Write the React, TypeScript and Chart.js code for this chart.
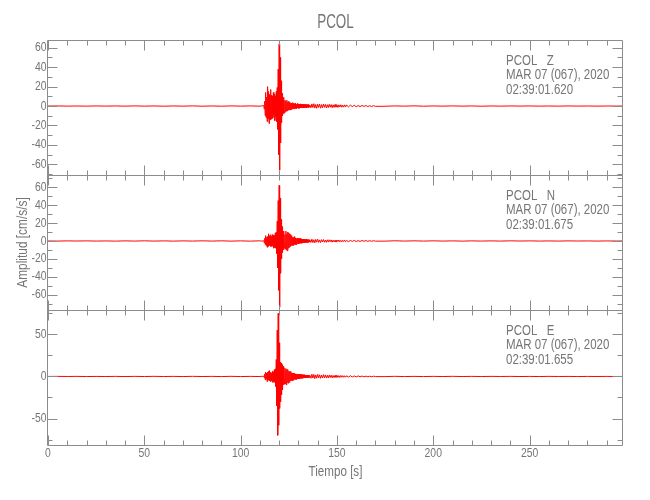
import React, { useEffect, useRef } from "react";
import { Chart, registerables } from "chart.js";

Chart.register(...registerables);

// ---------- data ----------
const STATION = "PCOL";
const DATE_LABEL = "MAR 07 (067), 2020";
const COMPONENTS = ["Z", "N", "E"];
const START_TIMES = ["02:39:01.620", "02:39:01.675", "02:39:01.655"];
const X_TITLE = "Tiempo [s]";
const Y_TITLE = "Amplitud [cm/s/s]";

const X_MIN = 0;
const X_MAX = 298.5;
const X_TICKS = [0, 50, 100, 150, 200, 250];
const Y_MIN = [-71, -77, -81.5];
const Y_MAX = [68, 73.6, 79];
const Y_TICKS = [
  [-60, -40, -20, 0, 20, 40, 60],
  [-60, -40, -20, 0, 20, 40, 60],
  [-50, 0, 50],
];
const Y_MINOR = [10, 10, 25];
const X_MINOR = 10;

// sample times (s)
const TIME = [
  0, 5, 10, 15, 20, 25, 30, 35, 40, 45, 50, 55, 60, 65, 70, 75, 80, 85, 90, 95, 100, 105, 110, 111,
  112, 112.25, 112.5, 112.75,
  113, 113.25, 113.5, 113.75,
  114, 114.25, 114.5, 114.75,
  115, 115.25, 115.5, 115.75,
  116, 116.25, 116.5, 116.75,
  117, 117.25, 117.5, 117.75,
  118, 118.25, 118.5, 118.75,
  119, 119.25, 119.5, 119.75,
  120, 120.25, 120.5, 120.75,
  121, 121.25, 121.5, 121.75,
  122, 122.25, 122.5, 122.75,
  123, 123.25, 123.5, 123.75,
  124, 124.25, 124.5, 124.75,
  125, 125.25, 125.5, 125.75,
  126, 126.25, 126.5, 126.75,
  127, 127.25, 127.5, 127.75,
  128, 128.25, 128.5, 128.75,
  129, 129.25, 129.5, 129.75,
  130, 130.25, 130.5, 130.75,
  131, 131.25, 131.5, 131.75,
  132, 132.25, 132.5, 132.75,
  133, 133.25, 133.5, 133.75,
  134, 134.25, 134.5, 134.75,
  135, 135.25, 135.5, 135.75,
  136,
  136.5, 137, 137.5, 138, 138.5, 139, 139.5, 140, 140.5, 141, 141.5, 142, 142.5, 143, 143.5,
  144, 144.5, 145, 145.5, 146, 146.5, 147, 147.5, 148, 148.5, 149, 149.5, 150, 150.5, 151,
  151.5, 152, 152.5, 153, 153.5, 154, 154.5, 155,
  156, 157, 158, 159, 160, 161, 162, 163, 164, 165, 166, 167, 168, 169, 170,
  175, 180, 185, 190, 195, 200, 205, 210, 215, 220, 225, 230, 235, 240, 245, 250, 255,
  260, 265, 270, 275, 280, 285, 290, 295, 298,
];

// PCOL Z (cm/s/s)
const Z_VALUES = [
  0, 0.1, -0.1, 0.05, -0.1, 0.1, -0.05, 0.1, -0.1, 0.15, -0.1, 0.1, -0.15, 0.1, -0.1, 0.15, -0.15, 0.1, -0.15, 0.15, -0.1, 0.15, -0.15, 0.2,
  0.5, -3, 5, -10,
  14, -12, 9, -16,
  20, -13, 15, -18,
  12, -9, 17, -14,
  11, -13, 10, -12,
  14, -9, 12, -15,
  10, -11, 15, -16,
  19, -24, 38, -50,
  64, -66, 50, -38,
  26, -17, 13, -10,
  9, -8, 7, -7,
  6, -6, 5, -5,
  6, -5, 4, -4,
  5, -4, 4, -4,
  3, -3.5, 3, -3,
  3.5, -2.5, 3, -3,
  2.5, -2.5, 3, -2.5,
  2, -2.5, 2.5, -2,
  2, -2.5, 2, -2,
  2.2, -1.8, 2, -2,
  1.6, -1.8, 2, -1.6,
  1.5, -1.8, 1.6, -1.4,
  1.5, -1.6, 1.4, -1.3,
  1.5, -1.4, 1.2, -1.3,
  1.2,
  -1.8, 2.2, -1.5, 2.4, -2.1, 1.6, -2.3, 1.9, -1.4, 2.0, -2.2, 1.5, -1.8, 2.1, -1.3,
  1.7, -1.9, 1.4, -1.6, 1.8, -1.2, 1.5, -1.7, 1.3, -1.4, 1.6, -1.1, 1.3, -1.5, 1.2,
  -1.0, 1.3, -1.2, 0.9, -1.1, 1.2, -0.9, 1.0,
  -0.8, 0.9, -0.6, 0.8, -0.7, 0.5, -0.6, 0.6, -0.4, 0.5, -0.5, 0.3, -0.4, 0.4, -0.3,
  -0.2, 0.15, -0.1, 0.2, -0.15, 0.1, -0.1, 0.15, -0.1, 0.1, -0.15, 0.1, -0.1, 0.1, -0.05, 0.1, -0.1,
  0.05, -0.1, 0.1, -0.05, 0.05, -0.1, 0.05, -0.05, 0,
];

// PCOL N (cm/s/s)
const N_VALUES = [
  0, -0.1, 0.1, -0.05, 0.1, -0.1, 0.05, -0.15, 0.1, -0.1, 0.15, -0.1, 0.1, -0.15, 0.1, -0.1, 0.15, -0.1, 0.15, -0.15, 0.1, -0.15, 0.15, -0.2,
  0.3, -2, 3, -4,
  6, -5, 4, -7,
  5, -6, 8, -5,
  6, -4, 7, -6,
  5, -6, 7, -5,
  6, -8, 6, -7,
  9, -8, 10, -14,
  22, -30, 45, -55,
  62, -74, 48, -36,
  24, -20, 16, -13,
  11, -10, 9, -8,
  7, -9, 11, -10,
  8, -11, 10, -8,
  9, -7, 8, -6,
  7, -5, 6, -5,
  4, -5, 4, -4,
  5, -4, 3.5, -4,
  3, -3.5, 3, -3,
  3, -3, 2.5, -2.5,
  3, -2.5, 2, -2.5,
  2, -2, 2.2, -2,
  1.8, -2, 1.8, -1.6,
  1.8, -1.6, 1.5, -1.6,
  1.4, -1.5, 1.4, -1.3,
  1.3,
  -1.6, 2.0, -1.8, 1.4, -2.1, 1.7, -1.3, 1.9, -1.6, 1.2, -1.8, 1.5, -1.1, 1.6, -1.4,
  1.0, -1.5, 1.3, -1.2, 1.4, -0.9, 1.2, -1.3, 1.0, -1.1, 0.8, -1.2, 1.0, -0.8, 1.1,
  -0.9, 0.7, -1.0, 0.8, -0.7, 0.9, -0.8, 0.6,
  -0.7, 0.6, -0.5, 0.7, -0.6, 0.4, -0.5, 0.5, -0.3, 0.4, -0.4, 0.3, -0.3, 0.3, -0.2,
  -0.15, 0.2, -0.1, 0.15, -0.1, 0.15, -0.1, 0.1, -0.15, 0.1, -0.1, 0.1, -0.1, 0.15, -0.05, 0.1, -0.1,
  0.05, -0.1, 0.1, -0.05, 0.05, -0.1, 0.05, -0.05, 0,
];

// PCOL E (cm/s/s)
const E_VALUES = [
  0, 0.1, -0.05, 0.1, -0.1, 0.05, -0.1, 0.1, -0.15, 0.1, -0.1, 0.15, -0.1, 0.1, -0.15, 0.15, -0.1, 0.1, -0.15, 0.15, -0.15, 0.1, -0.15, 0.15,
  0.3, -1.5, 3, -4,
  5, -3, 4, -6,
  5, -4, 6, -5,
  7, -4, 5, -6,
  4, -5, 6, -7,
  5, -6, 8, -7,
  9, -12, 20, -35,
  55, -70, 75, -58,
  40, -38, 17, -30,
  16, -22, 14, -16,
  12, -10, 11, -9,
  10, -9, 8, -10,
  9, -7, 8, -8,
  6, -7, 6, -5,
  6, -5, 4.5, -5,
  4, -4.5, 4, -3.5,
  4, -3.5, 3, -3.5,
  3, -3, 2.8, -3,
  2.5, -2.8, 2.5, -2.4,
  2.6, -2.2, 2.3, -2.2,
  2, -2.1, 2, -1.9,
  2, -1.8, 1.7, -1.8,
  1.6, -1.7, 1.6, -1.5,
  1.6, -1.5, 1.4, -1.4,
  1.3,
  -2.2, 2.6, -1.9, 2.3, -2.5, 1.8, -2.1, 2.4, -1.7, 2.0, -2.2, 1.6, -1.9, 2.1, -1.5,
  1.8, -1.7, 1.4, -1.8, 1.6, -1.3, 1.5, -1.6, 1.2, -1.4, 1.3, -1.1, 1.4, -1.2, 1.0,
  -1.2, 1.1, -0.9, 1.0, -1.0, 0.8, -0.9, 0.8,
  -0.7, 0.8, -0.6, 0.6, -0.5, 0.6, -0.4, 0.5, -0.4, 0.3, -0.4, 0.3, -0.3, 0.3, -0.2,
  -0.2, 0.15, -0.15, 0.1, -0.15, 0.1, -0.1, 0.15, -0.1, 0.1, -0.1, 0.1, -0.05, 0.1, -0.1, 0.05, -0.1,
  0.1, -0.05, 0.05, -0.1, 0.05, -0.05, 0.05, -0.05, 0,
];

const SERIES = [Z_VALUES, N_VALUES, E_VALUES];

// ---------- style ----------
const FONT = "'Liberation Sans', Arial, sans-serif";
const TEXT_COLOR = "#757575";
const AXIS_COLOR = "#8c8c8c";
const TRACE_COLOR = "#ff0000";
const PANEL_IDS = ["yZ", "yN", "yE"];
const NARROW = 0.8;

function drawText(
  ctx: CanvasRenderingContext2D,
  s: string,
  x: number,
  y: number,
  size: number,
  sx: number,
  align: CanvasTextAlign,
  rot = 0
) {
  ctx.save();
  ctx.translate(x, y);
  if (rot) ctx.rotate(rot);
  ctx.scale(sx, 1);
  ctx.font = `${size}px ${FONT}`;
  ctx.fillStyle = TEXT_COLOR;
  ctx.textAlign = align;
  ctx.textBaseline = "middle";
  ctx.fillText(s, 0, 0);
  ctx.restore();
}

const framePlugin = {
  id: "seismoFrames",
  afterDraw(chart: any) {
    const { ctx, chartArea } = chart;
    const xs = chart.scales.x;
    const left = Math.round(chartArea.left) - 0.5;
    const right = Math.round(chartArea.right) - 0.5;
    const centerX = (chartArea.left + chartArea.right) / 2;
    ctx.save();
    ctx.strokeStyle = AXIS_COLOR;
    ctx.lineWidth = 1;
    PANEL_IDS.forEach((id, k) => {
      const ys = chart.scales[id];
      const top = Math.round(ys.top) + 0.5;
      const bottom = Math.round(ys.bottom) + 0.5;
      ctx.beginPath();
      ctx.moveTo(left, top);
      ctx.lineTo(right, top);
      ctx.lineTo(right, bottom);
      ctx.lineTo(left, bottom);
      ctx.closePath();
      const yStep = Y_MINOR[k];
      const majors = ys.ticks.map((t: any) => t.value);
      for (let v = Math.ceil(ys.min / yStep) * yStep; v <= ys.max; v += yStep) {
        const isMajor = majors.some((m: number) => Math.abs(m - v) < 1e-6);
        const len = isMajor ? 10 : 5;
        const py = Math.round(ys.getPixelForValue(v)) + 0.5;
        ctx.moveTo(left, py);
        ctx.lineTo(left + len, py);
        ctx.moveTo(right, py);
        ctx.lineTo(right - len, py);
      }
      const xMajors = xs.ticks.map((t: any) => t.value);
      for (let t = Math.ceil(xs.min / X_MINOR) * X_MINOR; t <= xs.max; t += X_MINOR) {
        const isMajor = xMajors.some((m: number) => Math.abs(m - t) < 1e-6) || Math.abs(t % 50) < 1e-6;
        const len = isMajor ? 10 : 5;
        const px = Math.round(xs.getPixelForValue(t)) + 0.5;
        ctx.moveTo(px, top);
        ctx.lineTo(px, top + len);
        ctx.moveTo(px, bottom);
        ctx.lineTo(px, bottom - len);
      }
      ctx.stroke();

      // y tick labels
      ys.ticks.forEach((t: any) => {
        drawText(ctx, String(t.value), chartArea.left - 1.5, ys.getPixelForValue(t.value), 13, NARROW, "right");
      });

      // station / component labels
      const lines = [`${STATION}   ${COMPONENTS[k]}`, DATE_LABEL, START_TIMES[k]];
      lines.forEach((s, j) => {
        drawText(ctx, s, chartArea.right - 117, ys.top + 21 + j * 14.5, 14, 0.82, "left");
      });
    });

    // x tick labels
    xs.ticks.forEach((t: any) => {
      drawText(ctx, String(t.value), xs.getPixelForValue(t.value), xs.top + 8.5, 13, NARROW, "center");
    });
    // axis titles
    drawText(ctx, X_TITLE, centerX, xs.bottom - 28.3, 14, 0.83, "center");
    const mid = chart.scales[PANEL_IDS[1]];
    drawText(ctx, Y_TITLE, 23, (mid.top + mid.bottom) / 2, 14, 0.85, "center", -Math.PI / 2);
    // main title
    drawText(ctx, STATION, centerX, 22.5, 21, 0.64, "center");
    ctx.restore();
  },
};

function yScale(k: number) {
  return {
    type: "linear",
    position: "left",
    stack: "panels",
    stackWeight: 1,
    weight: 3 - k,
    min: Y_MIN[k],
    max: Y_MAX[k],
    grid: { display: false, drawTicks: false },
    border: { display: false },
    ticks: { display: false },
    afterBuildTicks(s: any) {
      s.ticks = Y_TICKS[k].map((v) => ({ value: v }));
    },
    afterFit(s: any) {
      s.width = 48;
    },
  };
}

export default function App() {
  const canvasRef = useRef<HTMLCanvasElement | null>(null);

  useEffect(() => {
    if (!canvasRef.current) return;
    const datasets = SERIES.map((vals, k) => ({
      label: `${STATION} ${COMPONENTS[k]}`,
      data: TIME.map((t, i) => ({ x: t, y: vals[i] })),
      xAxisID: "x",
      yAxisID: PANEL_IDS[k],
      borderColor: TRACE_COLOR,
      borderWidth: 1,
      pointRadius: 0,
      tension: 0,
      fill: false,
    }));
    const chart = new Chart(canvasRef.current, {
      type: "line",
      data: { datasets },
      options: {
        responsive: false,
        animation: false,
        layout: { padding: { top: 40, right: 27, bottom: 0, left: 0 } },
        plugins: {
          legend: { display: false },
          tooltip: { enabled: false },
          title: { display: false },
        },
        scales: {
          x: {
            type: "linear",
            position: "bottom",
            min: X_MIN,
            max: X_MAX,
            grid: { display: false, drawTicks: false },
            border: { display: false },
            ticks: { display: false },
            afterBuildTicks(s: any) {
              s.ticks = X_TICKS.map((v) => ({ value: v }));
            },
            afterFit(s: any) {
              s.height = 55;
            },
          },
          yZ: yScale(0),
          yN: yScale(1),
          yE: yScale(2),
        },
      } as any,
      plugins: [framePlugin],
    });
    return () => chart.destroy();
  }, []);

  return (
    <div style={{ position: "absolute", left: 0, top: 0, width: 650, height: 500, background: "#fff" }}>
      <canvas ref={canvasRef} width={650} height={500} />
    </div>
  );
}
